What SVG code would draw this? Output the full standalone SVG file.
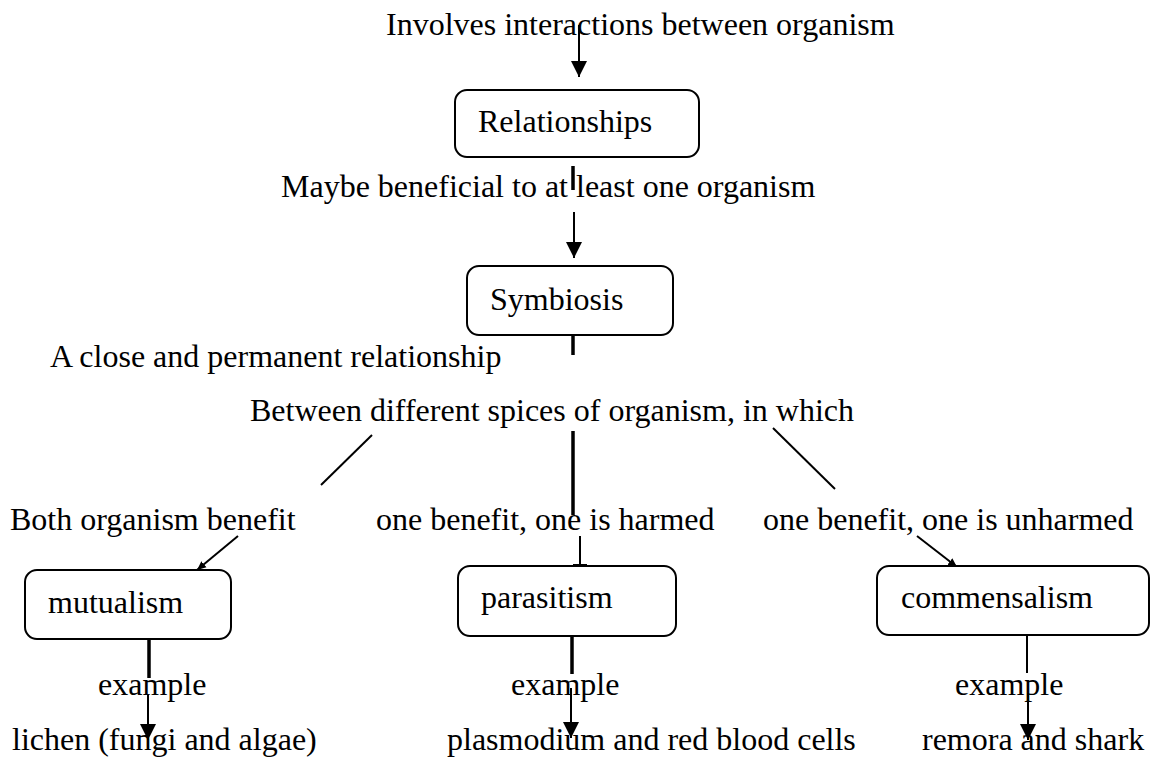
<svg xmlns="http://www.w3.org/2000/svg" width="1151" height="758" viewBox="0 0 1151 758">
<style>
text{font-family:"Times New Roman","Liberation Serif",Tinos,serif;font-size:32px;fill:#000}
.box{fill:#fff;stroke:#000;stroke-width:2}
.thin{stroke:#000;stroke-width:2;fill:none}
.thick{stroke:#000;stroke-width:3.5;fill:none}
</style>
<defs>
<marker id="ah" markerUnits="userSpaceOnUse" markerWidth="18" markerHeight="18" viewBox="0 0 18 18" refX="16" refY="9" orient="auto">
<path d="M0,1 L16,9 L0,17 Z" fill="#000"/>
</marker>
<marker id="ahs" markerUnits="userSpaceOnUse" markerWidth="10" markerHeight="10" viewBox="0 0 10 10" refX="9" refY="5" orient="auto">
<path d="M0,1 L9,5 L0,9 Z" fill="#000"/>
</marker>
</defs>
<text x="386" y="35">Involves interactions between organism</text>
<text x="281" y="197">Maybe beneficial to at least one organism</text>
<text x="50" y="367">A close and permanent relationship</text>
<text x="250" y="421">Between different spices of organism, in which</text>
<text x="10" y="530">Both organism benefit</text>
<text x="376" y="530">one benefit, one is harmed</text>
<text x="763" y="530">one benefit, one is unharmed</text>
<text x="98" y="695">example</text>
<text x="511" y="695">example</text>
<text x="955" y="695">example</text>
<text x="12" y="750">lichen (fungi and algae)</text>
<text x="447" y="750">plasmodium and red blood cells</text>
<text x="922" y="750">remora and shark</text>
<g id="connectors">
<line class="thin" x1="579" y1="25" x2="579" y2="77" marker-end="url(#ah)"/>
<line class="thick" x1="573" y1="166" x2="573" y2="190"/>
<line class="thin" x1="574" y1="212" x2="574" y2="258" marker-end="url(#ah)"/>
<line class="thick" x1="573" y1="335" x2="573" y2="355"/>
<line class="thin" x1="372" y1="435" x2="321" y2="485"/>
<line class="thick" x1="573" y1="431" x2="573" y2="515"/>
<line class="thin" x1="773" y1="428" x2="835" y2="489"/>
<line class="thin" x1="238" y1="536" x2="197" y2="570" marker-end="url(#ahs)"/>
<line class="thin" x1="580" y1="536" x2="580" y2="565"/>
<line class="thin" x1="573" y1="565" x2="587" y2="565"/>
<line class="thin" x1="917" y1="536" x2="957" y2="567" marker-end="url(#ahs)"/>
<line class="thick" x1="149" y1="627" x2="149" y2="678"/>
<line class="thin" x1="148" y1="695" x2="148" y2="740" marker-end="url(#ah)"/>
<line class="thick" x1="572" y1="624" x2="572" y2="674"/>
<line class="thin" x1="571" y1="688" x2="571" y2="738" marker-end="url(#ah)"/>
<line class="thin" x1="1027" y1="623" x2="1027" y2="673"/>
<line class="thin" x1="1028" y1="693" x2="1028" y2="740" marker-end="url(#ah)"/>
</g>
<g id="relationships">
<rect class="box" x="455" y="90" width="244" height="67" rx="12"/>
<text x="478" y="132">Relationships</text>
</g>
<g id="symbiosis">
<rect class="box" x="467" y="266" width="206" height="69" rx="12"/>
<text x="490" y="310">Symbiosis</text>
</g>
<g id="mutualism">
<rect class="box" x="25" y="570" width="206" height="69" rx="12"/>
<text x="48" y="613">mutualism</text>
</g>
<g id="parasitism">
<rect class="box" x="458" y="566" width="218" height="70" rx="12"/>
<text x="481" y="608">parasitism</text>
</g>
<g id="commensalism">
<rect class="box" x="877" y="566" width="272" height="69" rx="12"/>
<text x="901" y="608">commensalism</text>
</g>
</svg>
